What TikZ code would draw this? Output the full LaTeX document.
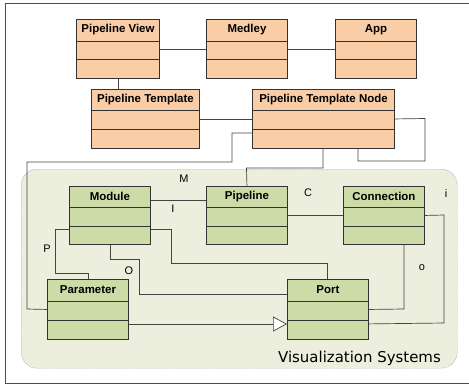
\documentclass[tikz,border=0pt]{standalone}
\usepackage{fontspec}
\setmainfont{Liberation Sans}
\newfontfamily\vfont{DejaVu Sans}
\usetikzlibrary{calc,arrows.meta}
\definecolor{orangefill}{HTML}{F9CDA6}
\definecolor{greenfill}{HTML}{CDDBA8}
\definecolor{groupfill}{HTML}{ECEFDE}
\definecolor{boxline}{HTML}{333333}
\definecolor{conline}{HTML}{444444}
\definecolor{groupline}{HTML}{A0A0A0}
\tikzset{
  umlbox/.style={draw=boxline, line width=0.9bp, inner sep=0pt, anchor=north west},
  title/.style={font=\bfseries\fontsize{11.5}{12}\selectfont, anchor=center, inner sep=0pt},
  con/.style={draw=conline, line width=0.7bp},
  lbl/.style={font=\fontsize{11}{12}\selectfont, inner sep=0pt, anchor=center},
}
% \umlbox{name}{x1}{y1}{x2}{y2}{header}{mid}{title}{fill}
\newcommand{\myumlbox}[9]{%
  \node[umlbox, fill=#9, minimum width={(#4-#2)*1bp}, minimum height={(#5-#3)*1bp}] (#1) at (#2,#3) {};
  \draw[boxline, line width=0.9bp] ($(#1.north west)+(0,#6)$) -- ($(#1.north east)+(0,#6)$);
  \draw[boxline, line width=0.9bp] ($(#1.north west)+(0,#7)$) -- ($(#1.north east)+(0,#7)$);
  \node[title] (#1-t) at ($(#1.north)+(0,#6/2)$) {#8};
}
\begin{document}
\begin{tikzpicture}[x=1bp, y=-1bp]
\useasboundingbox (0,0) rectangle (469,387);
\draw[line width=0.9bp, draw=black!70] (5,3) -- (475,3);
\draw[line width=0.9bp, draw=black!70] (5,3) -- (5,383) -- (475,383);

% group
\node[draw=groupline, dashed, dash pattern=on 1.5bp off 1bp, fill=groupfill, rounded corners=16bp,
  minimum width=436bp, minimum height=199bp, inner sep=0pt, anchor=north west] (grp) at (21,169) {};
\node[font=\vfont\fontsize{15}{16}\selectfont, anchor=base east, inner sep=0pt] (grplbl) at (441,362) {Visualization Systems};

% orange boxes
\myumlbox{pv}{76}{19}{159}{78}{22}{40}{Pipeline View}{orangefill}
\myumlbox{medley}{206}{19}{287}{78}{22}{40}{Medley}{orangefill}
\myumlbox{app}{335}{19}{416}{78}{22}{40}{App}{orangefill}
\myumlbox{pt}{91}{89}{199}{148}{21}{40}{Pipeline Template}{orangefill}
\myumlbox{ptn}{252}{89}{394}{148}{21}{40}{Pipeline Template Node}{orangefill}

% green boxes
\myumlbox{module}{69}{186}{150}{244}{21}{40}{Module}{greenfill}
\myumlbox{pipeline}{206}{186}{287}{244}{21}{40}{Pipeline}{greenfill}
\myumlbox{connection}{343}{186}{424}{244}{21}{40}{Connection}{greenfill}
\myumlbox{param}{47}{279}{128}{339}{22}{41}{Parameter}{greenfill}
\myumlbox{port}{287}{279}{368}{339}{22}{41}{Port}{greenfill}

% connectors top
\draw[con] (pv.east) -- (medley.west);
\draw[con] (medley.east) -- (app.west);
\draw[con] (pv.south) -- (pv.south |- pt.north);
\draw[con] (pt.east) -- (ptn.west);
\draw[con] (ptn.east) -- (425,118.5) -- (425,161) -- (358,161) -- ($(ptn.south west)+(106,0)$);
\draw[con] ($(ptn.north west)+(0,44)$) -- (232,133) -- (232,162) -- (27,162) -- (27,309) -- (param.west);
\draw[con] ($(ptn.south west)+(71,0)$) -- (323,168) -- (246.5,168) -- (pipeline.north);

% connectors group
\draw[con] ($(module.north east)+(0,14)$) -- ($(pipeline.north west)+(0,14)$);
\draw[con] (pipeline.east) -- (connection.west);
\draw[con] (connection.east) -- (444,215) -- (444,323) -- ($(port.south east)+(0,-16)$);
\draw[con] ($(connection.south west)+(61,0)$) -- (404,309) -- (port.east);
\draw[con] ($(module.north west)+(0,43)$) -- (55,229) -- (55,273) -- (88,273) -- ($(param.north west)+(41,0)$);
\draw[con] ($(module.north east)+(0,43)$) -- (171,229) -- (171,263) -- (327,263) -- ($(port.north west)+(40,0)$);
\draw[con] ($(module.south west)+(41,0)$) -- (110,259) -- (139,259) -- (139,294) -- ($(port.north west)+(0,15)$);
\draw[con, -{Triangle[open, length=14bp, width=15bp, fill=white]}] ($(param.north east)+(0,45)$) -- ($(port.north west)+(0,45)$);

% labels
\node[lbl] (lM) at (184,179) {M};
\node[lbl] (lC) at (308,193) {C};
\node[lbl] (li) at (446,194) {i};
\node[lbl] (lI) at (173,209) {I};
\node[lbl] (lP) at (47,249) {P};
\node[lbl] (lO) at (129,271) {O};
\node[lbl] (lo) at (422,268) {o};
\end{tikzpicture}
\end{document}
